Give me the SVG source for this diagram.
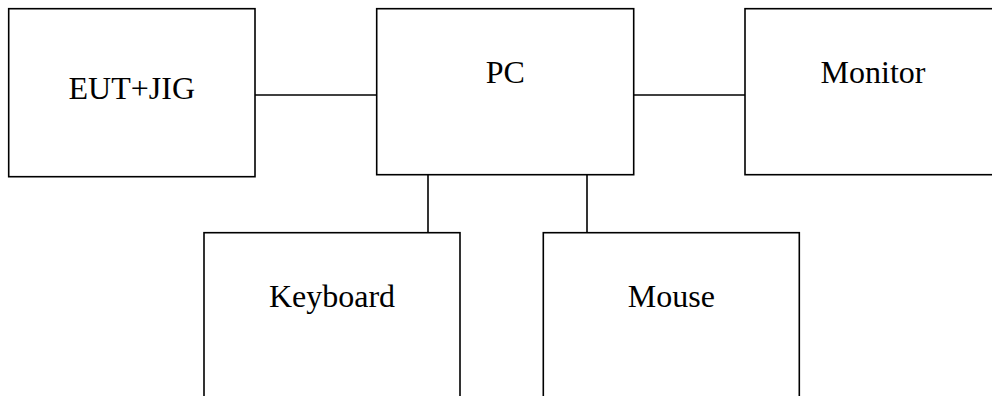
<svg xmlns="http://www.w3.org/2000/svg" width="992" height="396" viewBox="0 0 992 396">
<style>
.box{fill:#fff;stroke:#000;stroke-width:1.6}
.lbl{font-family:"Liberation Serif","Times New Roman",serif;font-size:32px;fill:#000;text-anchor:middle}
.con{stroke:#000;stroke-width:1.6;fill:none}
</style>
<rect width="992" height="396" fill="#fff"/>
<g id="connectors">
<line class="con" x1="255" y1="95" x2="377" y2="95"/>
<line class="con" x1="634" y1="95" x2="745" y2="95"/>
<line class="con" x1="428" y1="175" x2="428" y2="233"/>
<line class="con" x1="587" y1="175" x2="587" y2="233"/>
</g>
<g id="eut">
<rect class="box" x="8.7" y="8.7" width="246.3" height="168"/>
<text class="lbl" x="131.8" y="99.3">EUT+JIG</text>
</g>
<g id="pc">
<rect class="box" x="376.7" y="8.7" width="257" height="166"/>
<text class="lbl" x="505.2" y="83.3">PC</text>
</g>
<g id="monitor">
<rect class="box" x="745" y="8.7" width="256" height="166"/>
<text class="lbl" x="873" y="83.3">Monitor</text>
</g>
<g id="keyboard">
<rect class="box" x="204" y="232.7" width="256" height="180"/>
<text class="lbl" x="332" y="306.7">Keyboard</text>
</g>
<g id="mouse">
<rect class="box" x="543.3" y="232.7" width="256" height="180"/>
<text class="lbl" x="671.3" y="306.7">Mouse</text>
</g>
</svg>
